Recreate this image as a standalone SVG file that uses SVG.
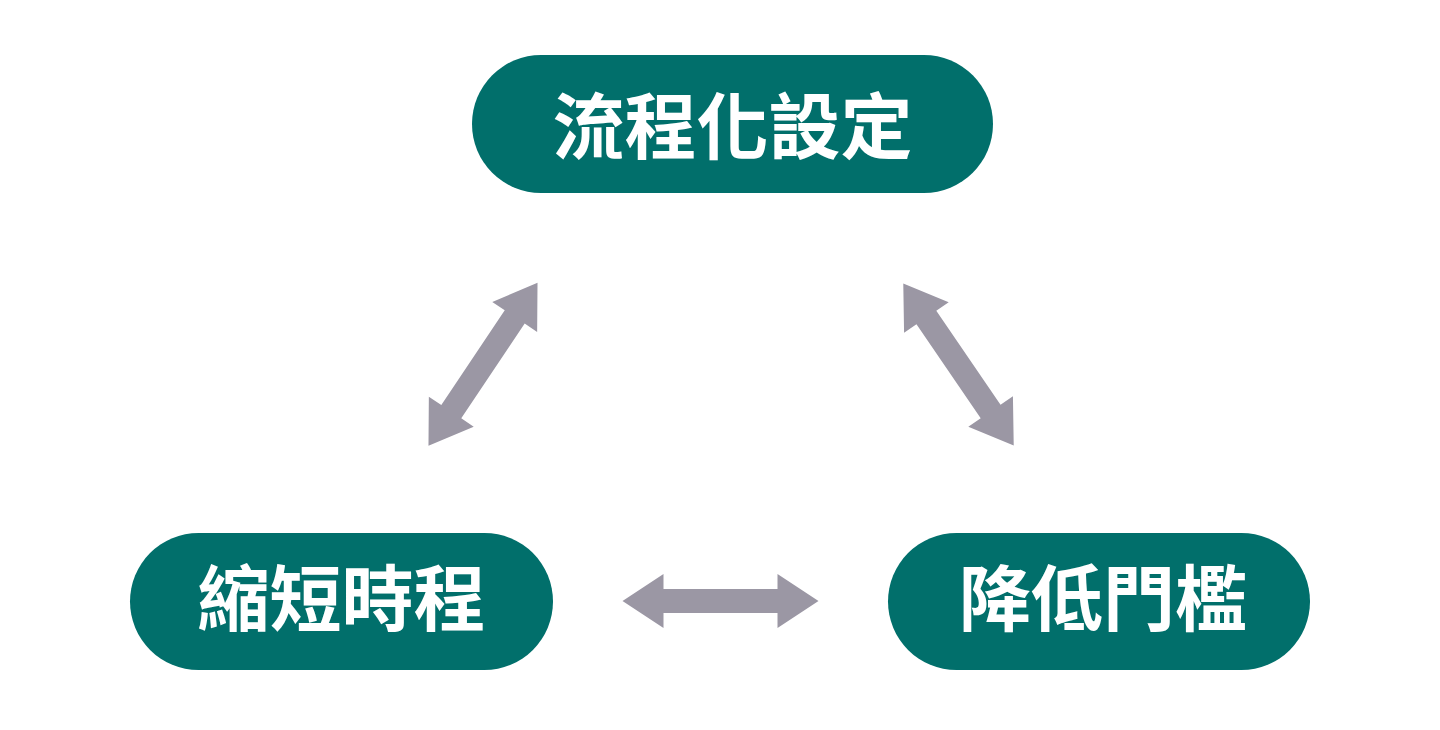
<svg xmlns="http://www.w3.org/2000/svg" width="1440" height="730" viewBox="0 0 1440 730">
  <style>
    .pill { fill: #016f6b; }
    .label { fill: #ffffff; font-family: "Noto Sans CJK TC", "Noto Sans CJK SC", sans-serif; font-weight: 700; font-size: 72px; text-anchor: middle; }
    .arrow { fill: #9b97a4; }
  </style>
  <defs>
    <path id="dblArrow" d="M-98,0 L-57,-27 L-57,-12 L57,-12 L57,-27 L98,0 L57,27 L57,12 L-57,12 L-57,27 Z"/>
  </defs>
  <rect width="1440" height="730" fill="#ffffff"/>
  <g id="connectors">
    <use href="#dblArrow" class="arrow" transform="translate(483,364.3) rotate(-56.2)"/>
    <use href="#dblArrow" class="arrow" transform="translate(958.5,364.5) rotate(55.7)"/>
    <use href="#dblArrow" class="arrow" transform="translate(720.5,601)"/>
  </g>
  <g id="node-top">
    <rect class="pill" x="472" y="55" width="521" height="138" rx="69" ry="69"/>
    <text class="label" x="732.5" y="153">流程化設定</text>
  </g>
  <g id="node-left">
    <rect class="pill" x="130" y="533" width="423" height="137" rx="68.5" ry="68.5"/>
    <text class="label" x="341.5" y="625">縮短時程</text>
  </g>
  <g id="node-right">
    <rect class="pill" x="888" y="533" width="422" height="137" rx="68.5" ry="68.5"/>
    <text class="label" x="1103" y="625">降低門檻</text>
  </g>
</svg>
